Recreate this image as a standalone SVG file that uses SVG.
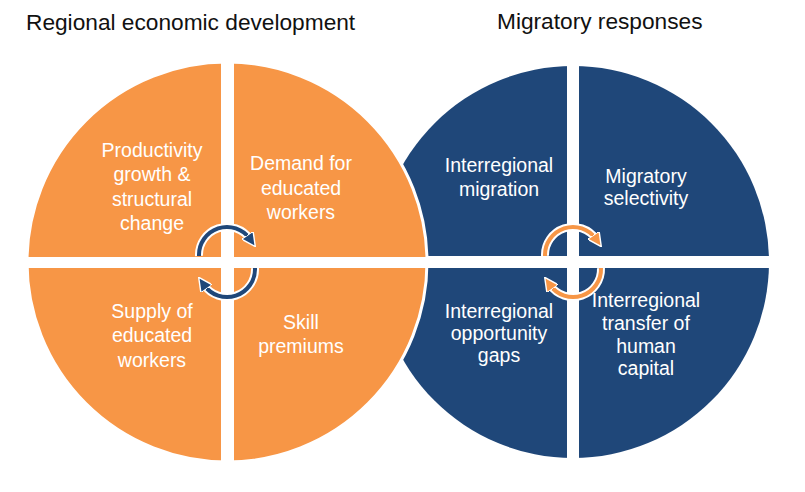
<svg xmlns="http://www.w3.org/2000/svg" width="805" height="492" viewBox="0 0 805 492">
<style>
.t{font-family:"Liberation Sans",Arial,sans-serif;font-size:19.5px;fill:#fff;text-anchor:middle}
.h{font-family:"Liberation Sans",Arial,sans-serif;font-size:22.7px;fill:#111}
.halo{fill:none;stroke:#fff;stroke-width:8}
</style>
<defs>
<marker id="an" markerUnits="userSpaceOnUse" markerWidth="14" markerHeight="14" refX="4" refY="6" orient="auto" viewBox="0 0 12 12"><path d="M0,0 L12,6 L0,12 z" fill="#1F4779" stroke="#fff" stroke-width="1.2"/></marker>
<marker id="ao" markerUnits="userSpaceOnUse" markerWidth="14" markerHeight="14" refX="4" refY="6" orient="auto" viewBox="0 0 12 12"><path d="M0,0 L12,6 L0,12 z" fill="#F79646" stroke="#fff" stroke-width="1.2"/></marker>
</defs>
<rect width="805" height="492" fill="#fff"/>
<text class="h" x="26" y="30">Regional economic development</text>
<text class="h" x="497" y="29">Migratory responses</text>
<g id="blue-circle">
<circle cx="573" cy="262" r="196" fill="#1F4779"/>
<rect x="567" y="60" width="12" height="410" fill="#fff"/>
<rect x="370" y="256" width="410" height="12" fill="#fff"/>
</g>
<g id="orange-circle">
<circle cx="227" cy="262" r="200" fill="#F79646" stroke="#fff" stroke-width="3"/>
<rect x="221" y="55" width="13" height="415" fill="#fff"/>
<rect x="20" y="257" width="410" height="11" fill="#fff"/>
</g>
<g id="n1"><text class="t" x="152" y="157">Productivity</text><text class="t" x="152" y="181">growth &amp;</text><text class="t" x="152" y="206">structural</text><text class="t" x="152" y="230">change</text></g>
<g id="n2"><text class="t" x="301" y="170">Demand for</text><text class="t" x="301" y="195">educated</text><text class="t" x="301" y="219">workers</text></g>
<g id="n3"><text class="t" x="152" y="318">Supply of</text><text class="t" x="152" y="342">educated</text><text class="t" x="152" y="367">workers</text></g>
<g id="n4"><text class="t" x="301" y="329">Skill</text><text class="t" x="301" y="353">premiums</text></g>
<g id="n5"><text class="t" x="499" y="172">Interregional</text><text class="t" x="499" y="196">migration</text></g>
<g id="n6"><text class="t" x="646" y="183">Migratory</text><text class="t" x="646" y="205">selectivity</text></g>
<g id="n7"><text class="t" x="499" y="318">Interregional</text><text class="t" x="499" y="340">opportunity</text><text class="t" x="499" y="362">gaps</text></g>
<g id="n8"><text class="t" x="646" y="307">Interregional</text><text class="t" x="646" y="330">transfer of</text><text class="t" x="646" y="353">human</text><text class="t" x="646" y="375">capital</text></g>
<g id="connectors">
<path class="halo" d="M199,256 A28,28 0 0 1 250,239"/>
<path d="M199,256 A28,28 0 0 1 250,239" fill="none" stroke="#1F4779" stroke-width="4" marker-end="url(#an)"/>
<path class="halo" d="M255,268 A28,28 0 0 1 204,285"/>
<path d="M255,268 A28,28 0 0 1 204,285" fill="none" stroke="#1F4779" stroke-width="4" marker-end="url(#an)"/>
<path class="halo" d="M545,256 A28,28 0 0 1 596,239"/>
<path d="M545,256 A28,28 0 0 1 596,239" fill="none" stroke="#F79646" stroke-width="4" marker-end="url(#ao)"/>
<path class="halo" d="M601,268 A28,28 0 0 1 550,285"/>
<path d="M601,268 A28,28 0 0 1 550,285" fill="none" stroke="#F79646" stroke-width="4" marker-end="url(#ao)"/>
</g>
</svg>
